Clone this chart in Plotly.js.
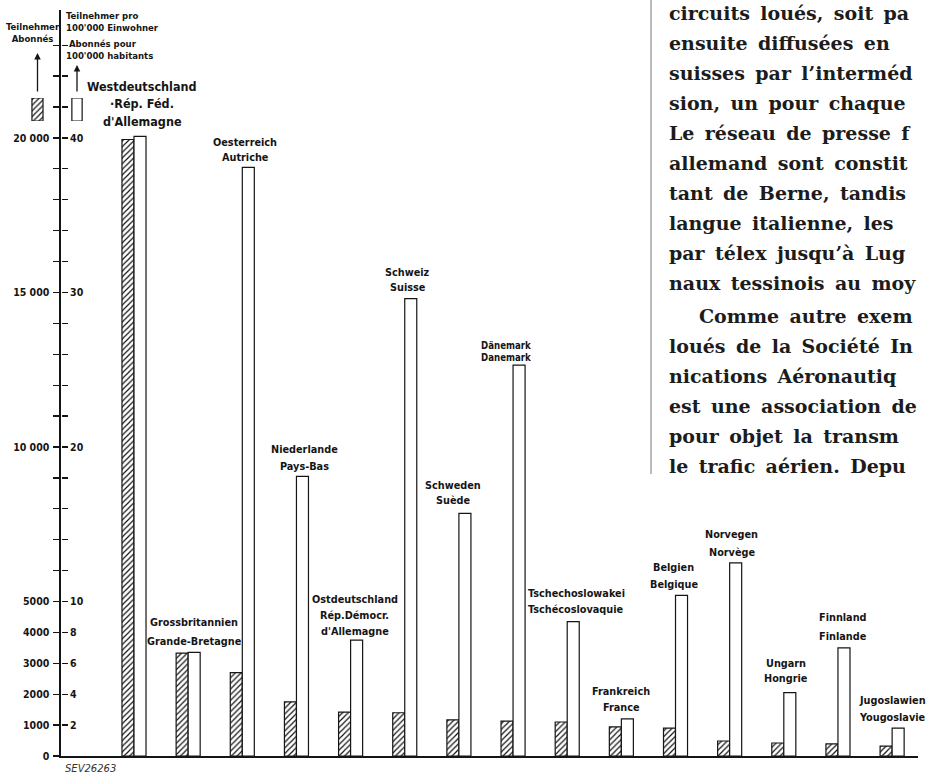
<!DOCTYPE html>
<html><head><meta charset="utf-8">
<script src="https://cdn.plot.ly/plotly-3.0.1.min.js"></script>
<style>html,body{margin:0;padding:0;background:#fff;overflow:hidden}#chart{width:930px;height:774px}</style>
</head><body><div id="chart"></div>
<script>
// ---- data ----
const namesDE = ["Westdeutschland","Grossbritannien","Oesterreich","Niederlande","Ostdeutschland","Schweiz","Schweden","Dänemark","Tschechoslowakei","Frankreich","Belgien","Norvegen","Ungarn","Finnland","Jugoslawien"];
const namesFR = ["·Rép. Féd.|d'Allemagne","Grande-Bretagne","Autriche","Pays-Bas","Rép.Démocr.|d'Allemagne","Suisse","Suède","Danemark","Tschécoslovaquie","France","Belgique","Norvège","Hongrie","Finlande","Yougoslavie"];
const subscribers = [19950, 3330, 2700, 1750, 1420, 1400, 1170, 1130, 1100, 940, 900, 485, 420, 390, 320];   // Teilnehmer / Abonnés
const per100k     = [40.1, 6.7, 38.1, 18.1, 7.5, 29.6, 15.7, 25.3, 8.7, 2.4, 10.4, 12.5, 4.1, 7.0, 1.8];       // pro 100'000 Einwohner
const leftTickVals = [0,1000,2000,3000,4000,5000,6000,7000,8000,9000,10000,11000,12000,13000,14000,15000,16000,17000,18000,19000,20000,21000,22000,23000];
const leftLabelled = {0:"0",1000:"1000",2000:"2000",3000:"3000",4000:"4000",5000:"5000",10000:"10 000",15000:"15 000",20000:"20 000"};
const rightTickVals = [2,4,6,8,10,12,14,16,18,20,22,24,26,28,30,32,34,36,38,40,42,44,46];
const rightLabelled = {2:"2",4:"4",6:"6",8:"8",10:"10",20:"20",30:"30",40:"40"};
const textLines = ["circuits loués, soit pa","ensuite diffusées en","suisses par l’interméd","sion, un pour chaque","Le réseau de presse f","allemand sont constit","tant de Berne, tandis","langue italienne, les","par télex jusqu’à Lug","naux tessinois au moy","Comme autre exem","loués de la Société In","nications Aéronautiq","est une association de","pour objet la transm","le trafic aérien. Depu"];

// ---- styling ----
const W = 930, H = 774;
const px = v => v / W, py = v => 1 - v / H;
const ink = "#151515";
const cond = "DejaVu Sans Condensed, Liberation Sans Narrow, sans-serif";
const hatch = {shape: "/", fgcolor: ink, bgcolor: "white", size: 4, solidity: 0.3};
const barW = 0.222;

const traces = [
  {type: "bar", x: namesDE, y: subscribers, xaxis: "x", yaxis: "y", width: barW, offset: -barW,
   marker: {color: "white", pattern: hatch, line: {color: ink, width: 1.2}}, hoverinfo: "skip"},
  {type: "bar", x: namesDE, y: per100k, xaxis: "x", yaxis: "y2", width: barW, offset: 0,
   marker: {color: "white", line: {color: ink, width: 1.2}}, hoverinfo: "skip"},
  // legend glyphs
  {type: "bar", x: [0], y: [1], xaxis: "x3", yaxis: "y3", width: 0.28,
   marker: {color: "white", pattern: hatch, line: {color: ink, width: 1.2}}, hoverinfo: "skip"},
  {type: "bar", x: [1], y: [1], xaxis: "x3", yaxis: "y3", width: 0.26,
   marker: {color: "white", line: {color: ink, width: 1.2}}, hoverinfo: "skip"}
];

// label placement (px): horizontal shift, gap of lowest line above bar, line spacing, font size
const labelShiftX = [8, 6, 3, 8, 4, 3, -6, -7, 9, 0, -2, 2, 2, 5, 0];
const labelGap    = [15, 11, 10, 10, 9, 11, 13, 8, 12, 11, 11, 10, 14, 11, 11];
const labelLead   = [17.5, 19, 15, 17, 16, 15, 15, 11.5, 16, 16, 17, 18, 15, 19, 17];
const labelSize   = [12.5, 10.8, 10.8, 10.8, 10.8, 10.8, 10.8, 9.6, 10.8, 10.8, 10.8, 10.8, 10.8, 10.8, 10.8];

const annotations = [];
namesDE.forEach((n, i) => {
  const lines = [n].concat(namesFR[i].split("|"));
  const top = Math.max(per100k[i], subscribers[i] / 500);
  lines.forEach((t, j) => {
    const fromBottom = lines.length - 1 - j;
    annotations.push({
      xref: "x", yref: "y2", x: n, y: top, text: t, showarrow: false,
      xanchor: "center", yanchor: "middle", xshift: labelShiftX[i],
      yshift: labelGap[i] + fromBottom * labelLead[i],
      font: {family: cond, size: labelSize[i], color: ink, weight: "bold"}
    });
  });
});
// axis headers
const hdrFont = {family: cond, size: 9.5, color: ink, weight: "bold"};
annotations.push({xref: "paper", yref: "paper", x: px(33), y: py(32), text: "Teilnehmer<br>Abonnés", showarrow: false, xanchor: "center", yanchor: "middle", font: hdrFont});
annotations.push({xref: "paper", yref: "paper", x: px(64), y: py(21), text: "Teilnehmer pro<br>100'000 Einwohner", showarrow: false, xanchor: "left", yanchor: "middle", align: "left", font: hdrFont});
annotations.push({xref: "paper", yref: "paper", x: px(64), y: py(50), text: " Abonnés pour<br>100'000 habitants", showarrow: false, xanchor: "left", yanchor: "middle", align: "left", font: hdrFont});
annotations.push({xref: "paper", yref: "paper", x: px(37.5), y: py(53), ax: 0, ay: 40, text: "", showarrow: true, arrowhead: 2, arrowsize: 1, arrowwidth: 1.3, arrowcolor: ink});
annotations.push({xref: "paper", yref: "paper", x: px(77), y: py(65), ax: 0, ay: 28, text: "", showarrow: true, arrowhead: 2, arrowsize: 1, arrowwidth: 1.3, arrowcolor: ink});
annotations.push({xref: "paper", yref: "paper", x: px(63), y: py(768), text: "SEV26263", showarrow: false, xanchor: "left", yanchor: "middle", font: {family: "DejaVu Sans, sans-serif", size: 10, color: "#333", style: "italic"}});
// page text on the right (justified column, cut at the page edge)
const lineY = [13, 43, 73, 103, 133, 163, 193, 223, 253, 283, 316, 346, 376, 406, 436, 466];
textLines.forEach((t, i) => {
  annotations.push({xref: "paper", yref: "paper", x: px(i === 10 ? 697 : 667), y: py(lineY[i]), text: t.split(" ").join("\u2009 "), showarrow: false,
    xanchor: "left", yanchor: "middle", align: "left", font: {family: "DejaVu Serif, serif", size: 19, color: "#1c1c1c", weight: "bold"}});
});

const layout = {
  width: W, height: H, margin: {l: 0, r: 0, t: 0, b: 0}, paper_bgcolor: "white", plot_bgcolor: "rgba(0,0,0,0)",
  showlegend: false, barmode: "overlay",
  xaxis: {domain: [61 / W, 918 / W], anchor: "y", type: "category", range: [-1.348, 14.478],
          showline: true, linecolor: ink, linewidth: 1.6, ticks: "", showticklabels: false, showgrid: false, zeroline: false, fixedrange: true},
  yaxis: {domain: [18 / H, 764 / H], anchor: "x", range: [0, 24140], showline: true, linecolor: ink, linewidth: 1.6,
          ticks: "outside", ticklen: 6, tickwidth: 1.3, tickcolor: ink, tickmode: "array", tickvals: leftTickVals,
          ticktext: leftTickVals.map(v => leftLabelled[v] || ""), tickfont: {family: cond, size: 10.5, color: ink, weight: "bold"},
          showgrid: false, zeroline: false, ticklabelstandoff: 2},
  yaxis2: {overlaying: "y", side: "right", anchor: "free", position: 61 / W, range: [0, 48.28], showline: false,
           ticks: "outside", ticklen: 6, tickwidth: 1.3, tickcolor: ink, tickmode: "array", tickvals: rightTickVals,
           ticktext: rightTickVals.map(v => rightLabelled[v] || ""), tickfont: {family: cond, size: 10.5, color: ink, weight: "bold"},
           showgrid: false, zeroline: false},
  xaxis3: {domain: [28 / W, 88 / W], anchor: "y3", range: [-0.24, 1.278], visible: false},
  yaxis3: {domain: [1 - 121 / H, 1 - 98 / H], anchor: "x3", range: [0, 1], visible: false},
  annotations: annotations,
  shapes: [{type: "line", xref: "paper", yref: "paper", x0: px(651), x1: px(651), y0: py(0), y1: py(474), line: {color: "#777", width: 1}}]
};
Plotly.newPlot("chart", traces, layout, {displayModeBar: false, staticPlot: true});
</script></body></html>
